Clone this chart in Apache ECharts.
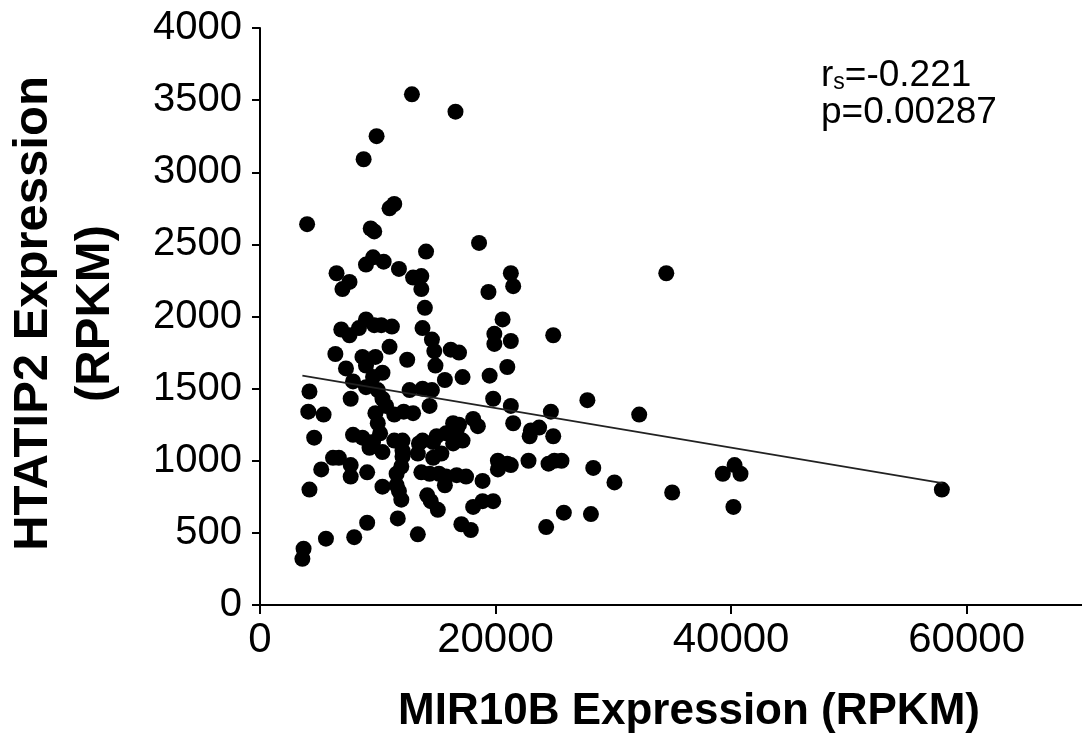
<!DOCTYPE html>
<html>
<head>
<meta charset="utf-8">
<script src="https://cdn.jsdelivr.net/npm/echarts@6/dist/echarts.min.js"></script>
<style>
html,body{margin:0;padding:0;background:#fff;}
#chart{width:1082px;height:736px;}
</style>
</head>
<body>
<div id="chart"></div>
<script>
// MIR10B expression (x) and HTATIP2 expression (y), RPKM
var mir10b = [12900,16600,9900,8800,11000,11400,4000,9400,9700,14100,18600,9600,10500,9000,6500,7600,7000,11800,13000,13700,13700,14000,13800,14600,14800,14900,16200,16900,15700,17200,21300,21500,19400,20600,19900,19900,21300,21000,19500,19800,21300,12500,11000,11200,9000,9700,10300,8400,6900,7600,6400,7300,8700,9800,9000,9600,10400,9000,10000,10400,10700,9800,7900,7700,4200,4100,5400,12700,13800,14600,12200,13000,14400,16400,16900,18100,21500,4600,7900,8700,9600,10200,10000,11400,9300,10400,12100,12100,12000,11600,13500,13400,14700,15400,14700,15800,16700,17200,16400,18500,13700,14400,15200,15800,16700,17500,15700,18900,20200,20200,21000,4200,5200,6200,6700,7700,7700,9100,10400,11600,11800,12000,14200,14500,15100,18100,18900,19800,17100,17900,11700,13400,9100,8000,5600,3700,3600,24700,27800,32200,23000,23700,22900,24900,21300,22800,24500,25600,25000,28300,30100,35000,39300,40300,40800,40200,25800,28100,24300,57900,34500,24900,11400,12100,13800,15000];
var htatip2 = [3540,3420,3250,3090,2750,2780,2640,2610,2590,2450,2510,2410,2380,2360,2300,2240,2190,2330,2270,2280,2190,2060,1920,1840,1760,1660,1770,1750,1560,1580,2300,2210,2170,1980,1880,1810,1830,1650,1590,1430,1380,1700,1790,1930,1980,1940,1940,1920,1910,1870,1740,1640,1720,1720,1660,1580,1610,1510,1490,1430,1380,1330,1550,1430,1480,1340,1320,1490,1500,1490,1340,1330,1380,1260,1250,1290,1260,1160,1180,1160,1130,1190,1260,1140,1090,1060,1070,1030,960,910,1120,1050,1130,1050,1020,1190,1210,1140,1120,1240,920,910,910,890,900,890,830,860,1000,940,980,800,940,1020,1020,970,890,920,820,830,790,730,760,720,660,680,720,720,560,520,600,490,570,470,460,390,320,1340,1420,1320,1210,1230,1170,1170,970,1000,980,1000,1000,950,850,780,910,970,910,680,640,630,540,800,2300,1870,1320,1140,1140,1170];
// Regression line end points
var fitX = [3600, 57950];
var fitY = [1590, 845];
// Axis ticks
var xTicks = [0, 20000, 40000, 60000];
var yTicks = [0, 500, 1000, 1500, 2000, 2500, 3000, 3500, 4000];
var statR = '-0.221';
var statP = '0.00287';

var points = mir10b.map(function (x, i) { return [x, htatip2[i]]; });
var fitLine = fitX.map(function (x, i) { return [x, fitY[i]]; });

var chart = echarts.init(document.getElementById('chart'), null, {renderer: 'canvas'});
var sans = "'Liberation Sans', Arial, Helvetica, sans-serif";
function plain(v) { return String(v); }
chart.setOption({
  animation: false,
  backgroundColor: '#ffffff',
  grid: {left: 260, right: 0, top: 28, bottom: 131, containLabel: false, outerBoundsMode: 'none'},
  xAxis: {
    type: 'value', min: 0, max: 69800, interval: 20000,
    name: 'MIR10B Expression (RPKM)', nameLocation: 'middle', nameGap: 85,
    nameTextStyle: {fontFamily: sans, fontWeight: 'bold', fontSize: 44, color: '#000', padding: [0, 0, 0, 36]},
    axisLine: {show: true, onZero: false, lineStyle: {color: '#000', width: 2}},
    axisTick: {show: true, length: 9, customValues: xTicks, lineStyle: {color: '#000', width: 2}},
    axisLabel: {customValues: xTicks, margin: 14, fontFamily: sans, fontSize: 42, color: '#000', formatter: plain},
    splitLine: {show: false}
  },
  yAxis: {
    type: 'value', min: 0, max: 4000, interval: 500,
    name: 'HTATIP2 Expression\n(RPKM)', nameLocation: 'middle', nameGap: 134,
    nameTextStyle: {fontFamily: sans, fontWeight: 'bold', fontSize: 49, lineHeight: 62, color: '#000', align: 'center', padding: [0, 0, 0, 6]},
    axisLine: {show: true, onZero: false, lineStyle: {color: '#000', width: 2}},
    axisTick: {show: true, length: 8, lineStyle: {color: '#000', width: 2}},
    axisLabel: {margin: 18, fontFamily: sans, fontSize: 40, color: '#000',
      customValues: yTicks, formatter: plain},
    splitLine: {show: false}
  },
  graphic: [{
    type: 'text', left: 821, top: 57, z: 10,
    style: {
      text: '{r|r}{s|s}{r|=' + statR + '}\n{r|p=' + statP + '}',
      fill: '#000',
      rich: {
        r: {fontFamily: sans, fontSize: 37, lineHeight: 37, fill: '#000'},
        s: {fontFamily: sans, fontSize: 23, lineHeight: 22, verticalAlign: 'bottom', fill: '#000'}
      }
    }
  }],
  series: [{
    type: 'scatter', data: points, symbol: 'circle', symbolSize: 16,
    itemStyle: {color: '#000', opacity: 1}, z: 3
  }, {
    type: 'line', data: fitLine, symbol: 'none', silent: true,
    lineStyle: {color: '#222', width: 1.6}, z: 4
  }]
});
</script>
</body>
</html>
